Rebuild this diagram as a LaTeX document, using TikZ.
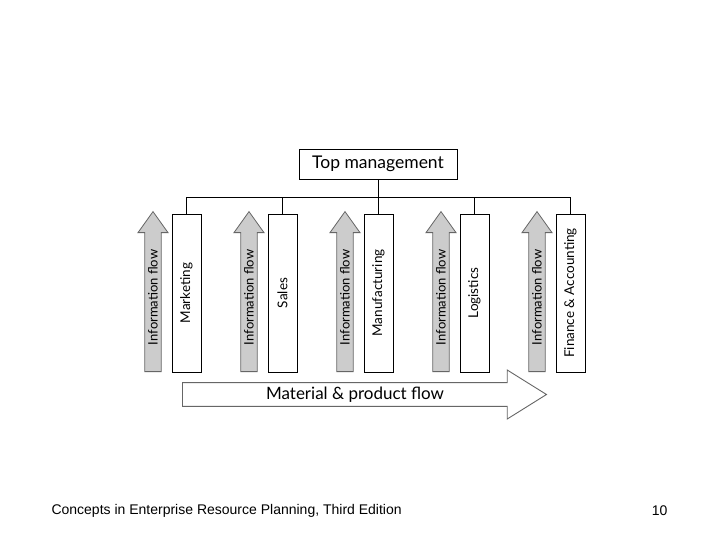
\documentclass[tikz,border=0pt]{standalone}
\usepackage{fontspec}
\newfontfamily\diagfont{Lato}
\newfontfamily\footfont{Liberation Sans}
\usetikzlibrary{shapes.arrows}
\definecolor{flowgray}{rgb}{0.80,0.80,0.80}
\definecolor{edgegray}{rgb}{0.40,0.40,0.40}
\tikzset{
  mgmt/.style={
    draw=black,
    fill=white,
    line width=0.9pt,
    minimum width=158pt,
    minimum height=30pt,
    inner sep=0pt,
    font=\diagfont\fontsize{17.5}{17.5}\selectfont
  },
  dept/.style={
    draw=black,
    fill=white,
    line width=0.9pt,
    rotate=90,
    minimum width=158pt,
    minimum height=29pt,
    inner sep=0pt,
    font=\diagfont\fontsize{13.5}{13.5}\selectfont
  },
  infoflow/.style={
    single arrow,
    draw=edgegray,
    fill=flowgray,
    line width=0.8pt,
    rotate=90,
    anchor=tail,
    minimum height=160pt,
    minimum width=30pt,
    single arrow head extend=6pt,
    single arrow tip angle=71,
    inner sep=2pt,
    font=\diagfont\fontsize{13}{13}\selectfont
  },
  matflow/.style={
    single arrow,
    draw=edgegray,
    fill=white,
    line width=0.9pt,
    anchor=tail,
    minimum height=364pt,
    minimum width=49pt,
    single arrow head extend=12pt,
    single arrow tip angle=64,
    inner sep=3pt,
    font=\diagfont\fontsize{17}{17}\selectfont
  },
  bus/.style={
    line width=0.8pt,
    draw=black
  }
}
\begin{document}
\begin{tikzpicture}[x=1pt,y=-1pt]
\useasboundingbox[fill=white] (0,0) rectangle (720,540);
% top of the hierarchy
\node[mgmt] (tm) at (378,164) {Top management};
\coordinate (bus) at (0,197);
% departments with their information flow
\foreach \name/\lbl [count=\i from 0] in {mkt/Marketing, sal/Sales, man/Manufacturing, log/Logistics, fin/Finance \& Accounting}{
  \node[infoflow] (info\name) at (153+96*\i,372) {Information flow};
  \node[dept] (\name) at (186.5+96*\i,293) {\lbl};
  \draw[bus] (\name.east) -- (\name.east |- bus);
}
\draw[bus] (tm.south) -- (tm.south |- bus);
\draw[bus] (mkt.east |- bus) -- (fin.east |- bus);
% material flow
\node[matflow] (mat) at (182,394.5) {Material \& product flow};
% footer
\node[font=\footfont\fontsize{14}{14}\selectfont, anchor=west] (title) at (48,511) {Concepts in Enterprise Resource Planning, Third Edition};
\node[font=\footfont\fontsize{14}{14}\selectfont, anchor=east] (page) at (671,511) {10};
\end{tikzpicture}
\end{document}
